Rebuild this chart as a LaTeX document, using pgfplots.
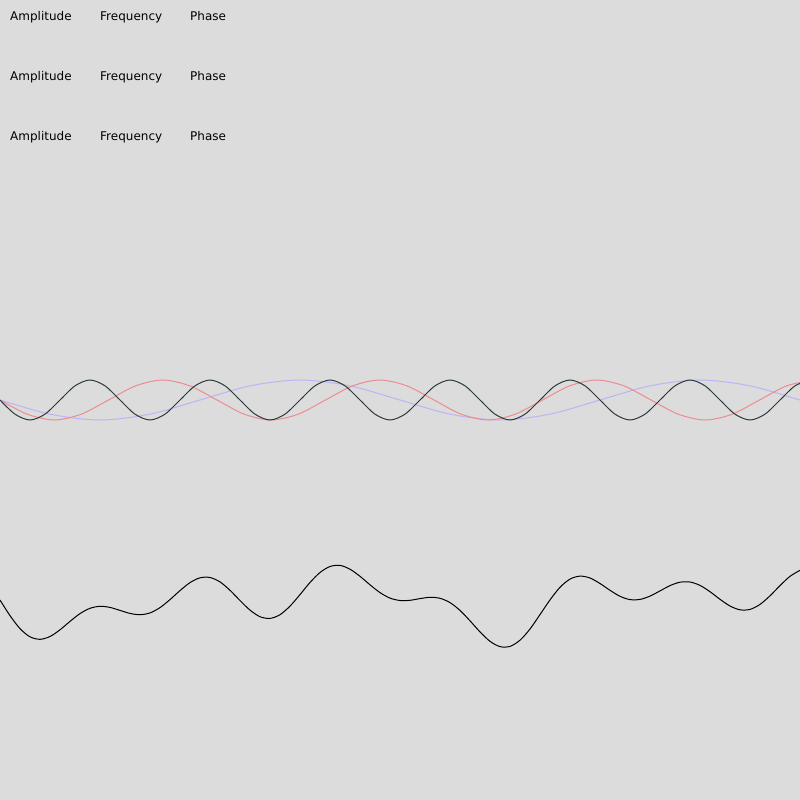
\documentclass[border=0pt]{standalone}
\usepackage{pgfplots}
\pgfplotsset{compat=1.18}
\usepackage{fontspec}
\setmainfont{DejaVu Sans}
\definecolor{bg}{RGB}{220,220,220}
\definecolor{wblack}{RGB}{42,58,58}
\definecolor{wred}{RGB}{236,140,145}
\definecolor{wblue}{RGB}{188,180,246}
\begin{document}
\begin{tikzpicture}
\fill[bg] (0,0) rectangle (800pt,800pt);
\begin{axis}[at={(0,0)}, anchor=south west,
  width=800pt, height=800pt, scale only axis,
  xmin=0, xmax=800, ymin=0, ymax=800, y dir=reverse,
  hide axis, clip=true]
\node[anchor=base west, inner sep=0, font=\fontsize{12}{14}\selectfont] at (axis cs:10,21) {Amplitude};
\node[anchor=base west, inner sep=0, font=\fontsize{12}{14}\selectfont] at (axis cs:100,21) {Frequency};
\node[anchor=base west, inner sep=0, font=\fontsize{12}{14}\selectfont] at (axis cs:190,21) {Phase};
\node[anchor=base west, inner sep=0, font=\fontsize{12}{14}\selectfont] at (axis cs:10,81) {Amplitude};
\node[anchor=base west, inner sep=0, font=\fontsize{12}{14}\selectfont] at (axis cs:100,81) {Frequency};
\node[anchor=base west, inner sep=0, font=\fontsize{12}{14}\selectfont] at (axis cs:190,81) {Phase};
\node[anchor=base west, inner sep=0, font=\fontsize{12}{14}\selectfont] at (axis cs:10,141) {Amplitude};
\node[anchor=base west, inner sep=0, font=\fontsize{12}{14}\selectfont] at (axis cs:100,141) {Frequency};
\node[anchor=base west, inner sep=0, font=\fontsize{12}{14}\selectfont] at (axis cs:190,141) {Phase};
% blue wave (period 400)
\addplot[wblue, line width=1pt, smooth] coordinates {
(0,400) (50,414.14) (100,420) (150,414.14) (200,400) (250,385.86) (300,380) (350,385.86)
(400,400) (450,414.14) (500,420) (550,414.14) (600,400) (650,385.86) (700,380) (750,385.86) (800,400) (850,414.14)};
% red wave (period 217)
\addplot[wred, line width=1pt, smooth] coordinates {
(0,400) (27.125,414.14) (54.25,420) (81.375,414.14) (108.5,400) (135.625,385.86) (162.75,380) (189.875,385.86)
(217,400) (244.125,414.14) (271.25,420) (298.375,414.14) (325.5,400) (352.625,385.86) (379.75,380) (406.875,385.86)
(434,400) (461.125,414.14) (488.25,420) (515.375,414.14) (542.5,400) (569.625,385.86) (596.75,380) (623.875,385.86)
(651,400) (678.125,414.14) (705.25,420) (732.375,414.14) (759.5,400) (786.625,385.86) (813.75,380)};
% dark wave (period 120)
\addplot[wblack, line width=1pt, smooth] coordinates {
(0,400) (15,414.14) (30,420) (45,414.14) (60,400) (75,385.86) (90,380) (105,385.86)
(120,400) (135,414.14) (150,420) (165,414.14) (180,400) (195,385.86) (210,380) (225,385.86)
(240,400) (255,414.14) (270,420) (285,414.14) (300,400) (315,385.86) (330,380) (345,385.86)
(360,400) (375,414.14) (390,420) (405,414.14) (420,400) (435,385.86) (450,380) (465,385.86)
(480,400) (495,414.14) (510,420) (525,414.14) (540,400) (555,385.86) (570,380) (585,385.86)
(600,400) (615,414.14) (630,420) (645,414.14) (660,400) (675,385.86) (690,380) (705,385.86)
(720,400) (735,414.14) (750,420) (765,414.14) (780,400) (795,385.86) (810,380)};
% combined wave
\addplot[black, line width=1pt, smooth] coordinates {
(0,600.0) (10,615.6) (20,628.6) (30,636.8) (40,639.3) (50,636.5) (60,629.8) (70,621.4) (80,613.6) (90,608.3)
(100,606.3) (110,607.4) (120,610.4) (130,613.4) (140,614.7) (150,612.9) (160,607.6) (170,599.6) (180,590.6) (190,582.6)
(200,577.8) (210,577.5) (220,581.9) (230,590.3) (240,600.5) (250,610.1) (260,616.7) (270,618.4) (280,614.7) (290,606.1)
(300,594.6) (310,582.5) (320,572.5) (330,566.5) (340,565.4) (350,569.2) (360,576.3) (370,584.8) (380,592.6) (390,598.1)
(400,600.5) (410,600.3) (420,598.6) (430,597.3) (440,598.3) (450,602.6) (460,610.4) (470,620.8) (480,631.9) (490,641.3)
(500,646.6) (510,646.4) (520,640.2) (530,629.0) (540,614.6) (550,599.9) (560,587.3) (570,579.1) (580,576.1) (590,578.0)
(600,583.5) (610,590.3) (620,596.3) (630,599.6) (640,599.4) (650,596.1) (660,590.9) (670,585.6) (680,582.2) (690,582.0)
(700,585.4) (710,591.7) (720,599.3) (730,606.0) (740,609.8) (750,609.4) (760,604.4) (770,595.8) (780,585.6) (790,576.3)
(800,570.3)};
\end{axis}
\end{tikzpicture}
\end{document}
